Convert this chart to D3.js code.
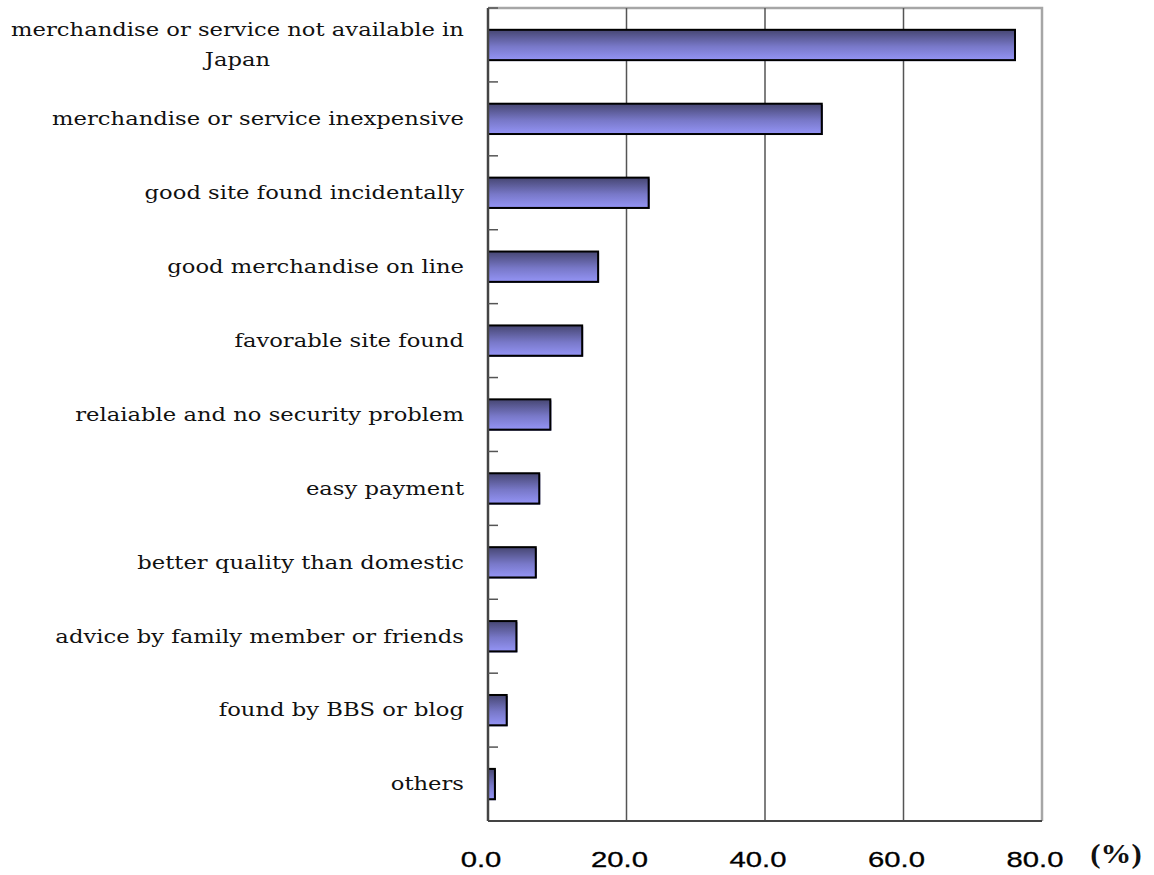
<!DOCTYPE html>
<html><head><meta charset="utf-8">
<script src="https://cdn.jsdelivr.net/npm/d3@7"></script>
<style>body{margin:0;background:#fff}</style>
</head><body>
<svg id="c" width="1154" height="875"></svg>
<script>
const categories = [
  ["merchandise or service not available in", "Japan"],
  ["merchandise or service inexpensive"],
  ["good site found incidentally"],
  ["good merchandise on line"],
  ["favorable site found"],
  ["relaiable and no security problem"],
  ["easy payment"],
  ["better quality than domestic"],
  ["advice by family member or friends"],
  ["found by BBS or blog"],
  ["others"]
];
const values = [76.1, 48.2, 23.2, 15.9, 13.6, 9.0, 7.4, 6.9, 4.1, 2.7, 1.0];
const xTicks = [0, 20, 40, 60, 80];

const svg = d3.select("#c");
const L = 488, R = 1042, T = 8, B = 821;
const x = d3.scaleLinear().domain([0, 80]).range([L, R]);
const y = d3.scaleBand().domain(d3.range(categories.length)).range([T, B]).paddingInner(0.59).paddingOuter(0.295);
const band = d3.scaleBand().domain(d3.range(categories.length)).range([T, B]);

const defs = svg.append("defs");
const g = defs.append("linearGradient").attr("id", "bg").attr("x1", 0).attr("y1", 0).attr("x2", 0).attr("y2", 1);
g.append("stop").attr("offset", "0%").attr("stop-color", "#464672");
g.append("stop").attr("offset", "55%").attr("stop-color", "#7878c8");
g.append("stop").attr("offset", "100%").attr("stop-color", "#9494f6");

// frame top/right (gray)
svg.append("path").attr("d", `M${L},${T}H${R}V${B}`).attr("fill", "none").attr("stroke", "#a6a6a6").attr("stroke-width", 2.5);

// gridlines
svg.append("g").selectAll("line").data(xTicks.filter(d => d > 0 && d < 80)).join("line")
  .attr("x1", d => x(d)).attr("x2", d => x(d)).attr("y1", T).attr("y2", B)
  .attr("stroke", "#555").attr("stroke-width", 1.5);

// bars shadow
svg.append("g").selectAll("rect").data(values).join("rect")
  .attr("x", x(0) + 1).attr("y", (d, i) => y(i) + 1)
  .attr("width", d => x(d) - x(0)).attr("height", y.bandwidth())
  .attr("fill", "#5050a0");
// bars
svg.append("g").selectAll("rect").data(values).join("rect")
  .attr("x", x(0)).attr("y", (d, i) => y(i))
  .attr("width", d => x(d) - x(0)).attr("height", y.bandwidth())
  .attr("fill", "url(#bg)").attr("stroke", "#000").attr("stroke-width", 2);

// left axis line
svg.append("line").attr("x1", L).attr("x2", L).attr("y1", T).attr("y2", B).attr("stroke", "#444").attr("stroke-width", 2.5);
// bottom axis line
svg.append("line").attr("x1", L).attr("x2", R).attr("y1", B).attr("y2", B).attr("stroke", "#444").attr("stroke-width", 2);
// y ticks at band boundaries (inside)
const bounds = d3.range(categories.length).map(i => band(i));
svg.append("g").selectAll("line").data(bounds).join("line")
  .attr("x1", L).attr("x2", L + 10).attr("y1", d => d).attr("y2", d => d)
  .attr("stroke", "#555").attr("stroke-width", 1.5);

// category labels (wide serif: scale horizontally)
const lab = svg.append("g").attr("font-family", "'DejaVu Serif', serif").attr("font-size", 18).attr("fill", "#111");
const probe = lab.append("text").text(categories[0][0]);
const sx = 453 / probe.node().getComputedTextLength();
probe.remove();
const rightX = 464, firstW = 453;
categories.forEach((lines, i) => {
  const cy = band(i) + band.bandwidth() / 2;
  lines.forEach((t, k) => {
    const off = lines.length === 1 ? 0 : (k === 0 ? -15 : 15);
    const ax = lines.length === 1 ? rightX : rightX - firstW / 2;
    lab.append("text")
      .attr("transform", `translate(${ax},${cy + off}) scale(${sx},1)`)
      .attr("dy", "0.35em")
      .attr("text-anchor", lines.length === 1 ? "end" : "middle")
      .text(t);
  });
});

// x tick labels (wide sans)
svg.append("g").selectAll("text").data(xTicks).join("text")
  .attr("transform", d => `translate(${x(d) - 7},867) scale(1.33,1)`)
  .attr("text-anchor", "middle")
  .attr("font-family", "'Liberation Sans', Arial, sans-serif").attr("font-size", 22).attr("fill", "#000")
  .attr("stroke", "#000").attr("stroke-width", 0.3)
  .text(d => d.toFixed(1));
svg.append("text").attr("transform", "translate(1116,863) scale(1.1,1)").attr("text-anchor", "middle")
  .attr("font-family", "'Liberation Serif', serif").attr("font-weight", "bold").attr("font-size", 28).attr("fill", "#111")
  .text("(%)");
</script>
</body></html>
